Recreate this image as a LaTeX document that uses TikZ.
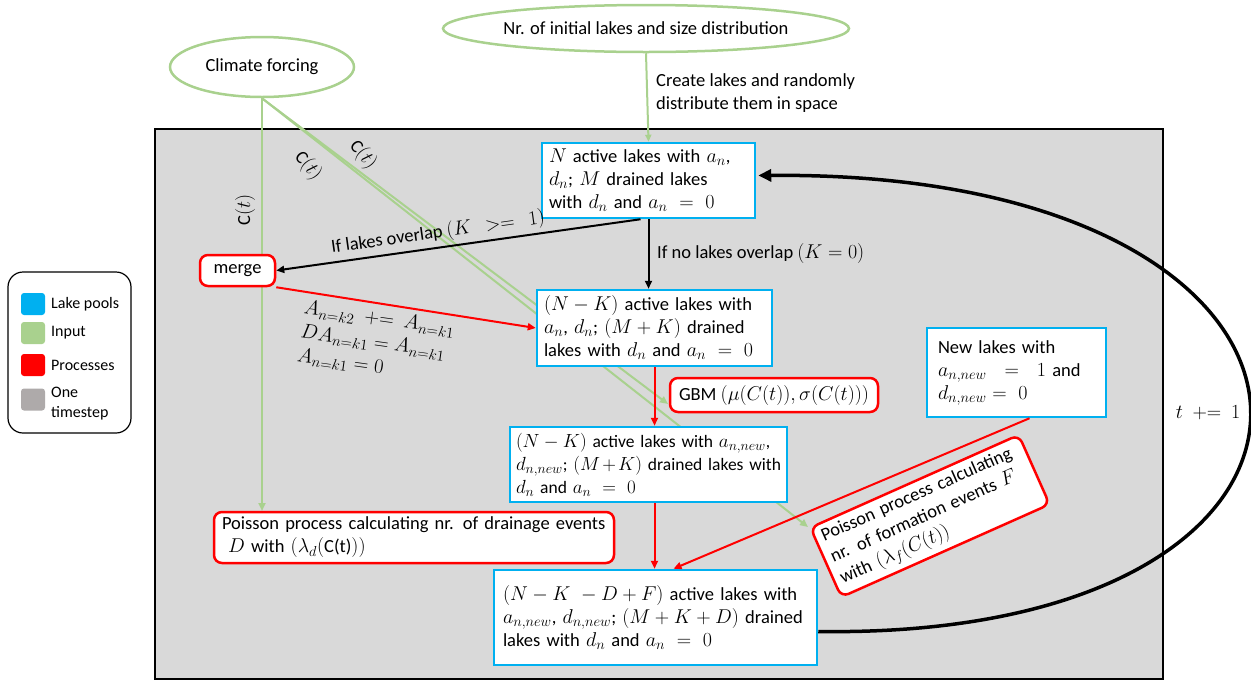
\RequirePackage{fix-cm}
\documentclass[tikz,border=0pt]{standalone}
\usepackage{fontspec}
\setmainfont{Carlito}
\DeclareMathSizes{18.5}{20}{14.5}{11}
\DeclareMathSizes{17.5}{19}{14}{11}
\DeclareMathSizes{19}{20.5}{15}{11}
\usetikzlibrary{shapes.geometric,arrows.meta,calc}
\definecolor{lblue}{HTML}{00B0F0}
\definecolor{lgreen}{HTML}{A9D18E}
\definecolor{lred}{HTML}{FF0000}
\definecolor{bggray}{HTML}{D9D9D9}
\definecolor{leggray}{HTML}{AEAAAA}
\tikzset{
  pool/.style={draw=lblue, line width=2.5pt, fill=white, inner sep=0pt, align=left},
  proc/.style={draw=lred, line width=2.5pt, fill=white, inner sep=0pt, rounded corners=8pt, align=left},
  inp/.style={draw=lgreen, line width=2.5pt, fill=white, ellipse, inner sep=0pt},
  garr/.style={draw=lgreen, line width=2pt, -{Triangle[length=8pt,width=7pt]}},
  rarr/.style={draw=lred, line width=2pt, -{Triangle[length=8pt,width=7pt]}},
  barr/.style={draw=black, line width=2pt, -{Triangle[length=8pt,width=7pt]}},
  lbl/.style={inner sep=1pt, align=left},
  swatch/.style={minimum width=24pt, minimum height=22pt, inner sep=0pt, rounded corners=3pt},
  legtext/.style={font=\fontsize{16}{20}\selectfont, anchor=west, align=left, inner sep=0pt}
}
\begin{document}
\begin{tikzpicture}[x=1pt,y=-1pt,font=\fontsize{18.5}{23}\selectfont]
\useasboundingbox (0,0) rectangle (1251,681);
% one timestep frame
\filldraw[fill=bggray, draw=black, line width=2.5pt] (155,129) rectangle (1163,679);

% legend
\node[draw=black, line width=1.2pt, rounded corners=15pt, minimum width=123pt, minimum height=161pt, inner sep=0pt] (leg) at (69.5,352.5) {};
\node[swatch, fill=lblue] (s1) at (33,304) {};
\node[legtext] (t1) at (51,304) {Lake pools};
\node[swatch, fill=lgreen] (s2) at (33,333) {};
\node[legtext] (t2) at (51,333) {Input};
\node[swatch, fill=lred] (s3) at (33,365) {};
\node[legtext] (t3) at (51,365) {Processes};
\node[swatch, fill=leggray] (s4) at (33,399.5) {};
\node[legtext] (t4) at (51,404) {One\\timestep};

% inputs
\node[inp, minimum width=406pt, minimum height=47pt] (init) at (646,28.5) {Nr. of initial lakes and size distribution};
\node[inp, minimum width=184pt, minimum height=60pt] (clim) at (262,67) {Climate forcing};

% green connectors (behind the boxes)
\draw[garr] (clim.south) -- (262,511);
\draw[garr] (clim.south) -- (668,404);
\draw[garr] (clim.south) -- (808,527);

% boxes
\node[pool, minimum width=213pt, minimum height=75pt, text width=199pt] (b1) at (648.5,180.5)
  {$N$ active lakes with $a_n$,\\$d_n$; $M$ drained lakes\\with $d_n$ and $a_n\ =\ 0$};
\node[pool, minimum width=235pt, minimum height=76pt, text width=221pt] (b2) at (654.5,328)
  {$(N-K)$ active lakes with\\$a_n$, $d_n$; $(M+K)$ drained\\lakes with $d_n$ and $a_n\ =\ 0$};
\node[pool, minimum width=277pt, minimum height=75pt, text width=265pt, font=\fontsize{17.5}{23}\selectfont] (b3) at (648.5,464.5)
  {$(N-K)$ active lakes with $a_{n,new}$,\\$d_{n,new}$; $(M+K)$ drained lakes with\\$d_n$ and $a_n\ =\ 0$};
\node[pool, minimum width=323pt, minimum height=95pt, text width=305pt] (fin) at (655.5,617.5)
  {$(N-K\ -D+F)$ active lakes with\\$a_{n,new}$, $d_{n,new}$; $(M+K+D)$ drained\\lakes with $d_n$ and $a_n\ =\ 0$};
\node[pool, minimum width=179pt, minimum height=89pt, text width=157pt] (newl) at (1016.5,372.5)
  {New lakes with\\$a_{n,new}\ \ =\ \ 1$ and\\$d_{n,new} =\ 0$};

% processes
\node[proc, minimum width=75pt, minimum height=31pt, align=center] (merge) at (237.5,270.5) {merge};
\node[proc, minimum width=208pt, minimum height=34pt, align=center] (gbm) at (774,395)
  {GBM $(\mu(C(t)),\sigma(C(t)))$};
\node[proc, minimum width=400pt, minimum height=51pt, text width=384pt] (drain) at (414,537.5)
  {Poisson process calculating nr. of drainage events\\\ $D$ with $(\lambda_d($C(t)$))$};
\node[proc, minimum width=228pt, minimum height=76pt, text width=214pt, rotate=24] (form) at (930,516)
  {Poisson process calculating\\nr. of formation events $F$\\with $(\lambda_f(C(t))$};

% connector from initial lakes
\draw[draw=lgreen, line width=2pt, -{Triangle[length=7pt,width=6pt]}] (init.south) -- (b1.north);

% black connectors
\draw[barr] ($(b1.south)+(-8,0)$) -- (merge.east);
\draw[barr] (b1.south) -- (b2.north -| b1.south);
\draw[line width=3.5pt, -{Triangle[length=13pt,width=12pt]}] ($(fin.east)+(0,14)$) .. controls (1410,640) and (1395,170) .. ($(b1.east)+(2,-5)$);

% red connectors
\draw[rarr] (merge.south east) -- (b2.west);
\draw[rarr] (b2.south) -- (b3.north -| b2.south);
\draw[rarr] (b3.south -| b2.south) -- (fin.north -| b2.south);
\draw[rarr] ($(newl.south)+(13,0)$) -- ($(fin.north)+(18,0)$);

% labels
\node[lbl, anchor=west] (lcreate) at (655,93) {Create lakes and randomly\\distribute them in space};
\node[lbl, anchor=west] (lno) at (656,253) {If no lakes overlap $(K=0)$};
\node[lbl, rotate=8] (lyes) at (438,233) {If lakes overlap $(K\ \ >=\ \ 1)$};
\node[lbl, rotate=90] (lc1) at (245,210) {C$(t)$};
\node[lbl, rotate=-50] (lc2) at (308,166) {C$(t)$};
\node[lbl, rotate=-50] (lc3) at (363,155) {C$(t)$};
\node[lbl, rotate=-8, font=\fontsize{19}{24}\selectfont] (lmerge) at (376,343)
  {$A_{n=k2}\ \mathrel{+}=\ A_{n=k1}$\\$DA_{n=k1}=A_{n=k1}$\\$A_{n=k1}=0$};
\node[lbl] (lt) at (1208,413) {$t\ \mathrel{+}=\ 1$};
\end{tikzpicture}
\end{document}
